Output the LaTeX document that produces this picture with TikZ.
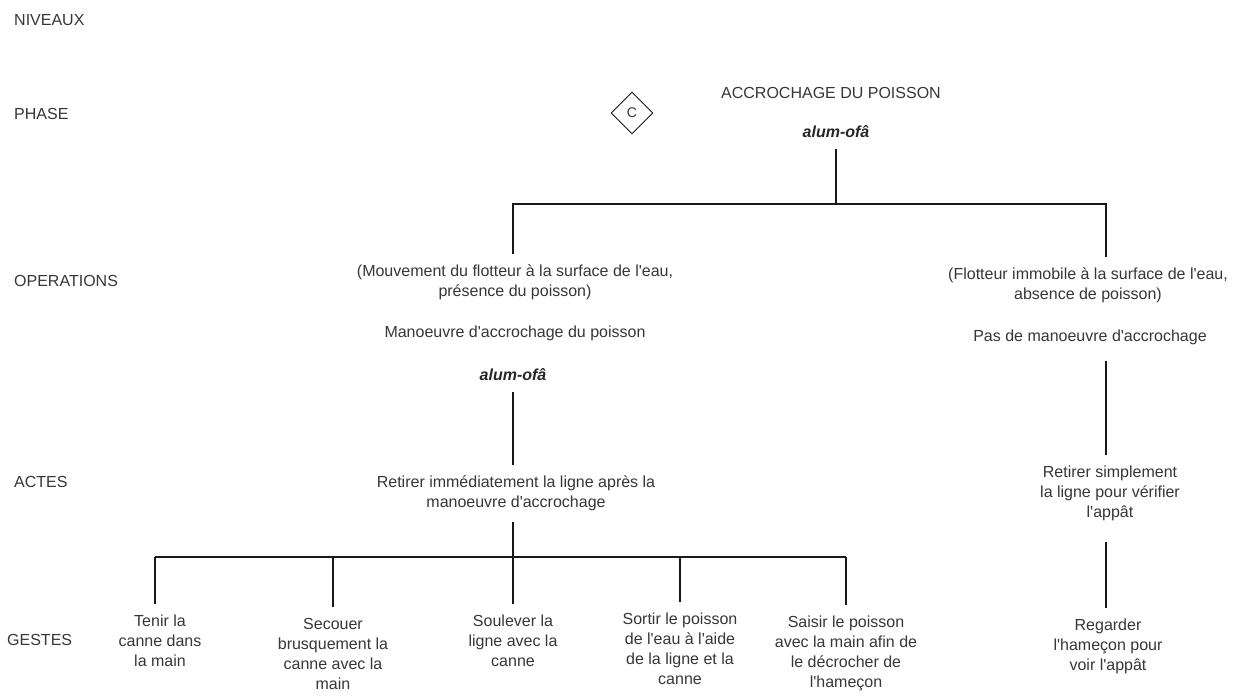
\documentclass[tikz,border=0pt]{standalone}
\usepackage{fontspec}
\setmainfont{Liberation Sans}
\usetikzlibrary{shapes.geometric, positioning}
\definecolor{txtgray}{RGB}{55,55,55}
\definecolor{linegray}{RGB}{25,25,25}
\newcommand{\ap}{\textquotesingle}
\tikzset{
    lvl/.style={anchor=west, inner sep=0pt, font=\fontsize{16}{20}\selectfont, text=txtgray},
    txt/.style={anchor=north, align=center, inner sep=0pt, outer ysep=11pt,
                font=\fontsize{16}{20}\selectfont, text=txtgray},
    nom/.style={txt, font=\fontsize{16}{20}\selectfont\bfseries\itshape, text=black!85},
    wire/.style={draw=linegray, line width=1.2pt},
    phasemark/.style={diamond, draw=linegray, line width=0.9pt, minimum size=42pt, inner sep=0pt,
                      font=\fontsize{14}{16}\selectfont, text=txtgray},
}

\begin{document}
\begin{tikzpicture}[x=1pt, y=-1pt]
    \fill[white] (0,0) rectangle (1244,696);
    \useasboundingbox (0,0) rectangle (1244,696);
    % niveaux
    \node[lvl] (niv) at (14,20) {NIVEAUX};
    \node[lvl] (pha) at (14,114) {PHASE};
    \node[lvl] (ope) at (14,281) {OPERATIONS};
    \node[lvl] (act) at (14,482) {ACTES};
    \node[lvl] (ges) at (7,640) {GESTES};
    % phase
    \node[phasemark] (diam) at (632,113) {C};
    \node[txt, anchor=center] (ph) at (831,93) {ACCROCHAGE DU POISSON};
    \node[nom, anchor=center] (phnom) at (836,132) {alum-ofâ};
    % operations
    \node[txt] (opL) at (515,254) {(Mouvement du flotteur à la surface de l\ap eau,\\présence du poisson)};
    \node[txt, anchor=center] (manL) at (515,333) {Manoeuvre d\ap accrochage du poisson};
    \node[nom, anchor=center] (nomL) at (513,375) {alum-ofâ};
    \node[txt] (opR) at (1088,257) {(Flotteur immobile à la surface de l\ap eau,\\absence de poisson)};
    \node[txt, anchor=center, outer ysep=17pt] (manR) at (1090,337) {Pas de manoeuvre d\ap accrochage};
    % actes
    \node[txt] (retL) at (516,465) {Retirer immédiatement la ligne après la\\manoeuvre d\ap accrochage};
    \node[txt] (retR) at (1110,455) {Retirer simplement\\la ligne pour vérifier\\l\ap appât};
    % gestes
    \node[txt] (g1) at (160,604) {Tenir la\\canne dans\\la main};
    \node[txt] (g2) at (333,607) {Secouer\\brusquement la\\canne avec la\\main};
    \node[txt] (g3) at (513,604) {Soulever la\\ligne avec la\\canne};
    \node[txt] (g4) at (680,602) {Sortir le poisson\\de l\ap eau à l\ap aide\\de la ligne et la\\canne};
    \node[txt] (g5) at (846,605) {Saisir le poisson\\avec la main afin de\\le décrocher de\\l\ap hameçon};
    \node[txt] (gR) at (1108,608) {Regarder\\l\ap hameçon pour\\voir l\ap appât};
    % junctions
    \coordinate (jtop) at (836,204);
    \coordinate (jL) at (513,204);
    \coordinate (jR) at (1106,204);
    \coordinate (jG) at (513,557);
    \coordinate (b1) at (155,557);
    \coordinate (b2) at (333,557);
    \coordinate (b3) at (513,557);
    \coordinate (b4) at (680,557);
    \coordinate (b5) at (846,557);
    % connectors
    \draw[wire] (phnom.south) -- (jtop);
    \draw[wire] (opL.north -| jL) -- (jL) -- (jR) -- (opR.north -| jR);
    \draw[wire] (nomL.south) -- (nomL.south |- retL.north);
    \draw[wire] (retL.south -| jG) -- (jG);
    \draw[wire] (b1) -- (b5);
    \foreach \i in {1,...,5}
        \draw[wire] (b\i) -- (g\i.north -| b\i);
    \draw[wire] (manR.south -| jR) -- (retR.north -| jR);
    \draw[wire] ([yshift=-10pt]retR.south -| jR) -- (gR.north -| jR);
\end{tikzpicture}
\end{document}
